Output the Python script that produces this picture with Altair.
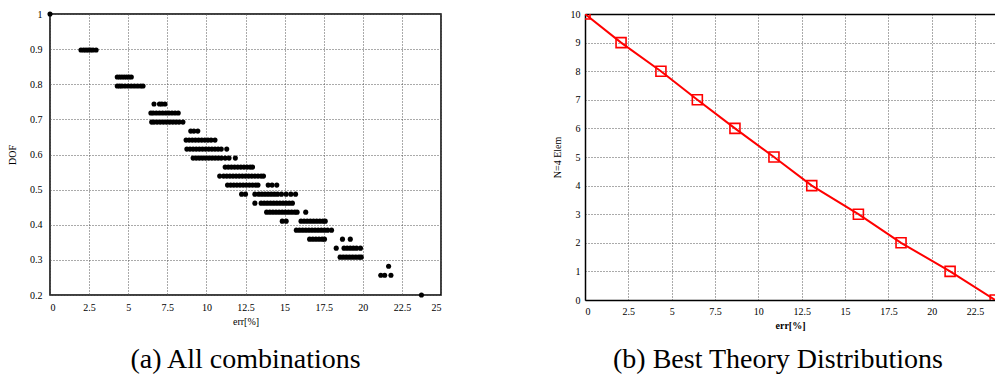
import altair as alt
import pandas as pd

# ---------------- data: panel (a) All combinations ----------------
# DOF levels (fractions of 39) and the err[%] values of the points on each level
dof_levels = [1.0, 35/39, 32/39, 31/39, 29/39, 28/39, 27/39, 26/39, 25/39, 24/39,
              23/39, 22/39, 21/39, 20/39, 19/39, 18/39, 17/39, 16/39, 15/39,
              14/39, 13/39, 12/39, 11/39, 10/39, 0.2]
err_on_level = [
    [0.0],
    [1.98, 2.15, 2.3, 2.45, 2.6, 2.75, 2.95],
    [4.3, 4.45, 4.6, 4.75, 4.9, 5.05, 5.2],
    [4.3, 4.45, 4.6, 4.8, 5.0, 5.2, 5.4, 5.6, 5.8, 5.95],
    [6.65, 7.0, 7.15, 7.35],
    [6.45, 6.6, 6.8, 7.0, 7.2, 7.4, 7.6, 7.8, 8.0, 8.2],
    [6.5, 6.65, 6.85, 7.05, 7.25, 7.45, 7.65, 7.85, 8.05, 8.25, 8.5],
    [9.0, 9.2, 9.45],
    [8.7, 8.9, 9.1, 9.3, 9.5, 9.7, 9.9, 10.1, 10.3, 10.55],
    [8.75, 8.95, 9.15, 9.35, 9.55, 9.75, 9.95, 10.15, 10.35, 10.55, 10.75, 10.95, 11.3],
    [9.15, 9.35, 9.55, 9.75, 9.95, 10.15, 10.35, 10.55, 10.75, 10.95, 11.2, 11.45, 11.85],
    [11.2, 11.4, 11.6, 11.8, 12.0, 12.2, 12.4, 12.6, 12.8, 12.95],
    [10.85, 11.1, 11.3, 11.5, 11.7, 11.9, 12.1, 12.3, 12.5, 12.7, 12.9, 13.1, 13.3, 13.5, 13.65],
    [11.35, 11.55, 11.75, 11.95, 12.15, 12.35, 12.55, 12.75, 12.95, 13.15, 13.3, 13.95, 14.2, 14.5],
    [12.25, 12.5, 13.1, 13.35, 13.55, 13.75, 13.95, 14.15, 14.35, 14.55, 14.8, 15.1, 15.4, 15.7],
    [13.1, 13.5, 13.7, 13.9, 14.1, 14.3, 14.5, 14.7, 14.9, 15.1, 15.3, 15.5],
    [13.85, 14.05, 14.25, 14.45, 14.65, 14.85, 15.05, 15.25, 15.45, 15.65, 15.8, 16.35],
    [14.85, 15.1, 16.05, 16.25, 16.45, 16.65, 16.85, 17.05, 17.25, 17.45, 17.6],
    [15.75, 15.95, 16.15, 16.35, 16.55, 16.75, 16.95, 17.15, 17.35, 17.55, 17.75, 18.0],
    [16.6, 16.8, 17.0, 17.2, 17.4, 17.55, 18.7, 19.2],
    [18.3, 18.8, 19.0, 19.2, 19.4, 19.6, 19.85],
    [18.55, 18.75, 18.95, 19.15, 19.35, 19.55, 19.75, 19.9],
    [21.65],
    [21.15, 21.4, 21.8],
    [23.75],
]
a_x_ticks = [0, 2.5, 5, 7.5, 10, 12.5, 15, 17.5, 20, 22.5, 25]
a_y_ticks = [0.2, 0.3, 0.4, 0.5, 0.6, 0.7, 0.8, 0.9, 1.0]

# ---------------- data: panel (b) Best Theory Distributions ----------------
b_err = [0.0, 2.08, 4.38, 6.48, 8.65, 10.9, 13.08, 15.77, 18.23, 21.06, 23.66]
b_elem = [10, 9, 8, 7, 6, 5, 4, 3, 2, 1, 0]
b_x_ticks = [0, 2.5, 5, 7.5, 10, 12.5, 15, 17.5, 20, 22.5]
b_y_ticks = list(range(0, 11))

rows = []
for lvl, xs in zip(dof_levels, err_on_level):
    for v in xs:
        rows.append({"err": v, "dof": lvl})
df_a = pd.DataFrame(rows)
df_b = pd.DataFrame({"err": b_err, "elem": b_elem})

SERIF = "Liberation Serif, Times New Roman, Times, serif"
FS = 10
grid_kw = dict(grid=True, gridColor="#555", gridDash=[1, 2], gridWidth=1)
lab_kw = dict(labelFont=SERIF, labelFontSize=FS, labelColor="black",
              titleFont=SERIF, titleFontSize=FS, titleColor="black",
              titleFontWeight="normal", ticks=False)

# ---------------- panel (a) ----------------
ax_x = alt.X("err:Q", scale=alt.Scale(domain=[0, 25], nice=False, zero=False),
             axis=alt.Axis(values=a_x_ticks, format=".3~g", title="err[%]",
                           domain=False, labelPadding=7, titlePadding=4,
                           **grid_kw, **lab_kw))
ax_y = alt.Y("dof:Q", scale=alt.Scale(domain=[0.2, 1.0], nice=False, zero=False),
             axis=alt.Axis(values=a_y_ticks, format=".3~g", title="DOF",
                           domain=False, labelPadding=8, titlePadding=12,
                           **grid_kw, **lab_kw))
panel_a = alt.Chart(df_a).mark_circle(size=26, color="black", opacity=1).encode(
    x=ax_x, y=ax_y
).properties(
    width=391, height=281,
    view=alt.ViewBackground(stroke="black", strokeWidth=1.5),
    title=alt.TitleParams("(a) All combinations", orient="bottom", anchor="middle",
                          frame="group", font=SERIF, fontSize=28, fontWeight="normal",
                          color="black", offset=20),
)

# ---------------- panel (b) ----------------
bx = alt.X("err:Q", scale=alt.Scale(domain=[0, 23.65], nice=False, zero=False),
           axis=alt.Axis(values=b_x_ticks, format=".3~g", title="err[%]",
                         domain=True, domainColor="black", domainWidth=1.5,
                         labelPadding=6, titlePadding=4, **grid_kw,
                         **{**lab_kw, "titleFontWeight": "bold"}))
by = alt.Y("elem:Q", scale=alt.Scale(domain=[0, 10], nice=False, zero=False),
           axis=alt.Axis(values=b_y_ticks, format="d", title="N=4 Elem",
                         domain=True, domainColor="black", domainWidth=1.5,
                         labelPadding=5, titlePadding=8, **grid_kw, **lab_kw))
line_b = alt.Chart(df_b).mark_line(color="#ff0000", strokeWidth=2, clip=True).encode(x=bx, y=by)
sq_b = alt.Chart(df_b).mark_point(shape="square", size=100, color="#ff0000", filled=False,
                                  strokeWidth=1.6, opacity=1, clip=True).encode(x=bx, y=by)
top_b = alt.Chart(df_b).mark_point(opacity=0, clip=True).encode(
    x=alt.X("err:Q", scale=alt.Scale(domain=[0, 23.65], nice=False, zero=False),
            axis=alt.Axis(orient="top", labels=False, ticks=False, domain=True,
                          domainColor="black", domainWidth=1.5, grid=False,
                          title=None)),
)
panel_b = alt.layer(alt.layer(line_b, sq_b), top_b).resolve_scale(x="independent").properties(
    width=410, height=286,
    title=alt.TitleParams("(b) Best Theory Distributions", orient="bottom", anchor="middle",
                          frame="group", font=SERIF, fontSize=28, fontWeight="normal",
                          color="black", offset=16, dx=-12),
)

chart = alt.hconcat(panel_a, panel_b, spacing=110).properties(
    padding={"left": 6, "top": 8, "right": 0, "bottom": 0},
    background="white",
).configure_view(stroke=None)

chart.save("out.html", embed_options={"renderer": "svg", "actions": False})
